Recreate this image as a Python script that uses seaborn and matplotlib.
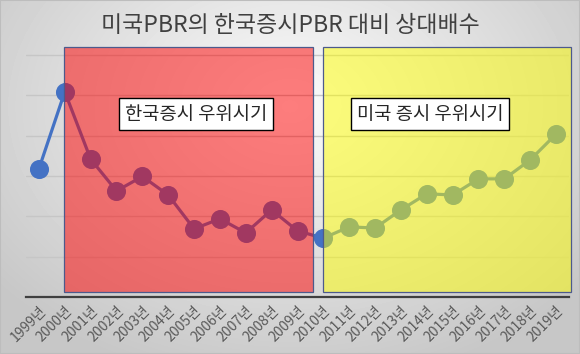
import numpy as np
import pandas as pd
import matplotlib
matplotlib.use("Agg")
import matplotlib.pyplot as plt
from matplotlib.patches import Rectangle
import seaborn as sns

# data (y axis units, labels hidden in the original)
years = [f"{y}년" for y in range(1999, 2020)]
ratio = [3.18, 5.09, 3.42, 2.63, 2.99, 2.53, 1.69, 1.94, 1.59, 2.16, 1.64,
         1.46, 1.74, 1.71, 2.16, 2.56, 2.53, 2.93, 2.93, 3.40, 4.04]
title = "미국PBR의 한국증시PBR 대비 상대배수"
korea_label = "한국증시 우위시기"
us_label = "미국 증시 우위시기"
korea_period = ("2000년", "2009년")
us_period = ("2010년", "2019년")

sns.set_style("white")
plt.rcParams['font.family'] = ['Noto Sans CJK KR', 'DejaVu Sans']

df = pd.DataFrame({"year": years, "ratio": ratio})

fig = plt.figure(figsize=(5.8, 3.54), dpi=100)

# soft radial background
bg = fig.add_axes([0, 0, 1, 1], zorder=-5)
yy, xx = np.mgrid[0:1:354j, 0:1:580j]
r = np.sqrt(((xx - 0.5) / 0.7) ** 2 + ((yy - 0.3) / 0.85) ** 2)
shade = np.clip(0.985 - 0.22 * r, 0.78, 1.0)
bg.imshow(shade, cmap="gray", vmin=0, vmax=1, aspect="auto", extent=[0, 1, 0, 1], origin="upper")
bg.add_patch(Rectangle((0, 0), 1, 1, fill=False, edgecolor="#bdbdbd", lw=1.5, transform=bg.transAxes))
bg.set_axis_off()

ax = fig.add_axes([26 / 580, 1 - 297 / 354, 543 / 580, 252 / 354])
ax.set_facecolor("none")

sns.pointplot(data=df, x="year", y="ratio", color="#4472c4", markersize=12,
              linewidth=2.3, ax=ax, zorder=3)

ax.set_xlim(-0.5, len(years) - 0.5)
ax.set_ylim(0, 6.25)
ax.set_yticks(range(1, 7))
ax.set_yticklabels([])
ax.tick_params(axis="y", length=0)
ax.tick_params(axis="x", length=0, pad=5)
ax.yaxis.grid(True, color="#c6c6c6", lw=1)
ax.set_axisbelow(True)
for side in ["left", "right", "top"]:
    ax.spines[side].set_visible(False)
ax.spines["bottom"].set_color("#3f3f3f")
ax.spines["bottom"].set_linewidth(1.6)
ax.set_xlabel("")
ax.set_ylabel("")
plt.setp(ax.get_xticklabels(), rotation=45, ha="right", rotation_mode="anchor",
         fontsize=10, color="#595959")

# period shading drawn over the line
k0, k1 = years.index(korea_period[0]), years.index(korea_period[1])
u0, u1 = years.index(us_period[0]), years.index(us_period[1])
ax.add_patch(Rectangle((k0 - 0.03, 0.12), (k1 + 0.6) - (k0 - 0.03), 6.08,
                       facecolor=(1, 0, 0, 0.5), edgecolor="#4d5a8c", lw=0.9, zorder=4, clip_on=False))
ax.add_patch(Rectangle((u0, 0.12), (u1 + 0.57) - u0, 6.08,
                       facecolor=(1, 1, 0, 0.5), edgecolor="#4d5a8c", lw=0.9, zorder=4, clip_on=False))

box = dict(boxstyle="square,pad=0.3", facecolor="white", edgecolor="black", lw=1)
ax.text(6.07, 4.53, korea_label, fontsize=13.5, ha="center", va="center", bbox=box, zorder=5)
ax.text(15.12, 4.53, us_label, fontsize=13.5, ha="center", va="center", bbox=box, zorder=5)

fig.text(0.5, 1 - 25 / 354, title, fontsize=16.5, color="#404040", ha="center", va="center")

fig.savefig("out.png", dpi=100)
